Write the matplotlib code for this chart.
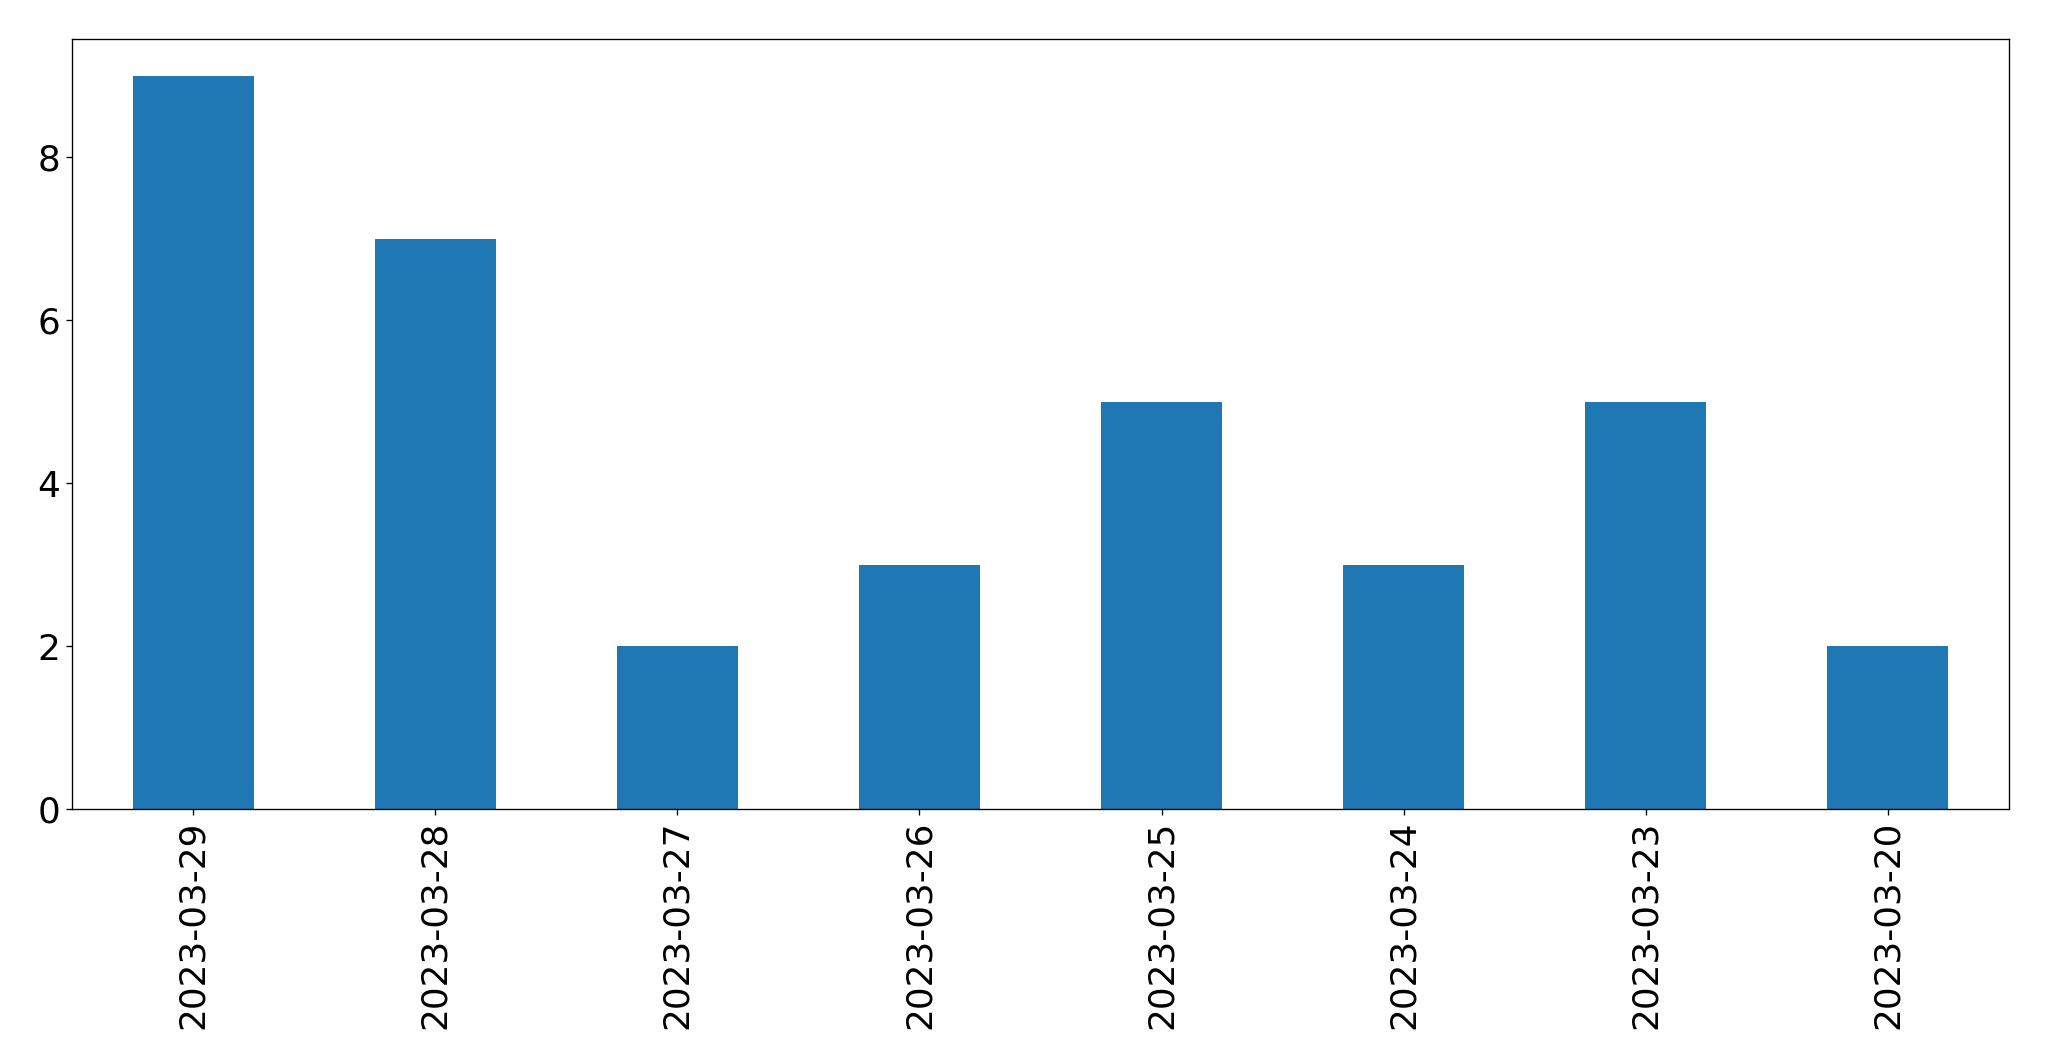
import matplotlib
matplotlib.use('Agg')
import matplotlib.pyplot as plt
import numpy as np

# data
dates = ['2023-03-29', '2023-03-28', '2023-03-27', '2023-03-26',
         '2023-03-25', '2023-03-24', '2023-03-23', '2023-03-20']
counts = [9, 7, 2, 3, 5, 3, 5, 2]

# plot
fig, ax = plt.subplots(figsize=(2049 / 120, 1061 / 120), dpi=120)
fig.subplots_adjust(left=72 / 2049, right=2009 / 2049, top=1 - 39 / 1061, bottom=1 - 809 / 1061)
x = np.arange(len(dates))
ax.bar(x, counts, width=0.5, color='#1f77b4')
ax.set_xlim(-0.5, len(dates) - 0.5)
ax.set_xticks(x)
ax.set_xticklabels(dates, rotation=90)
ax.tick_params(labelsize=21.5)
fig.savefig('out.png', dpi=120)
